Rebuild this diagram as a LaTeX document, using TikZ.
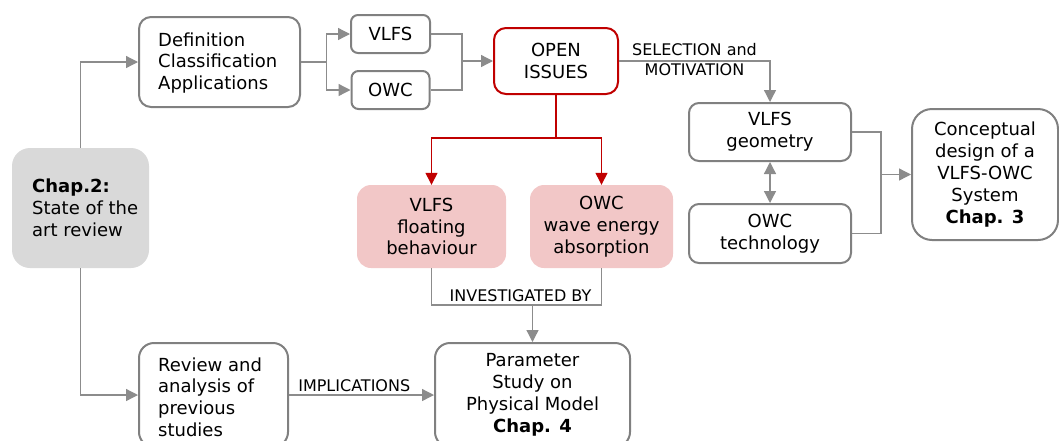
\documentclass[tikz,border=0pt]{standalone}
\usepackage{fontspec}
\setmainfont{DejaVu Sans}
\usetikzlibrary{arrows.meta,calc}

\definecolor{boxgray}{HTML}{808080}
\definecolor{linegray}{HTML}{8C8C8C}
\definecolor{issuered}{HTML}{C00000}
\definecolor{softpink}{HTML}{F2C7C7}
\definecolor{chapgray}{HTML}{D9D9D9}

\newcommand\boxfont{\fontsize{18}{21.8}\selectfont}
\newcommand\lblfont{\fontsize{16}{20}\selectfont}

\begin{document}
\begin{tikzpicture}[x=1pt,y=-1pt,
  box/.style={draw=boxgray, line width=2pt, rounded corners=12pt, fill=white,
              inner sep=0pt, align=center, font=\boxfont},
  smallbox/.style={box, rounded corners=7pt},
  redbox/.style={box, draw=issuered},
  pinkbox/.style={draw=none, fill=softpink, rounded corners=14pt, inner sep=0pt,
                  align=center, font=\boxfont},
  chapbox/.style={draw=none, fill=chapgray, rounded corners=18pt, inner sep=0pt},
  txt/.style={inner sep=0pt, align=left, font=\boxfont},
  lbl/.style={inner sep=0pt, align=center, font=\lblfont},
  conn/.style={draw=linegray, line width=1.3pt},
  arr/.style={conn, -{Triangle[length=12pt,width=12pt]}},
  dblarr/.style={conn, {Triangle[length=12pt,width=12pt]}-{Triangle[length=12pt,width=12pt]}},
  redconn/.style={draw=issuered, line width=1.3pt},
  redarr/.style={redconn, -{Triangle[length=12pt,width=12pt]}}
]
\useasboundingbox (0,0) rectangle (1059,440);
\clip (0,0) rectangle (1059,440);

% ---- boxes ----
\node[chapbox, minimum width=137pt, minimum height=120pt] (chap) at (80.5,208) {};
\node[txt, anchor=west] (chaptxt) at (32,208) {\textbf{Chap.2:}\\State of the\\art review};

\node[box, minimum width=161pt, minimum height=90pt] (defn) at (219.5,62) {};
\node[txt, anchor=west] (defntxt) at (158,63) {Definition\\Classification\\Applications};

\node[smallbox, minimum width=79pt, minimum height=38pt] (vlfs) at (390.5,34) {VLFS};
\node[smallbox, minimum width=78pt, minimum height=38pt] (owc) at (390.5,90) {OWC};

\node[redbox, minimum width=124pt, minimum height=66pt] (open) at (556,61) {OPEN\\ISSUES};

\node[pinkbox, minimum width=149pt, minimum height=83pt] (float) at (431.5,226.5)
  {VLFS\\floating\\behaviour};
\node[pinkbox, minimum width=143pt, minimum height=83pt] (wave) at (601.5,226.5)
  {OWC\\wave energy\\absorption};

\node[box, rounded corners=10pt, minimum width=162pt, minimum height=58pt] (geom) at (770,132)
  {VLFS\\geometry};
\node[box, rounded corners=10pt, minimum width=162pt, minimum height=59pt] (tech) at (770,233.5)
  {OWC\\technology};

\node[box, rounded corners=20pt, minimum width=146pt, minimum height=131pt] (concept) at (985,174.5)
  {Conceptual\\design of a\\VLFS-OWC\\System\\\textbf{Chap. 3}};

\node[box, rounded corners=15pt, minimum width=149pt, minimum height=104pt] (review) at (213.5,395) {};
\node[txt, anchor=west] (reviewtxt) at (158,397) {Review and\\analysis of\\previous\\studies};

\node[box, rounded corners=15pt, minimum width=195pt, minimum height=104pt] (param) at (532.5,395)
  {Parameter\\Study on\\Physical Model\\\textbf{Chap. 4}};

% ---- connectors ----
\draw[arr] (chap.north) |- (defn.west);
\draw[arr] (chap.south) |- (review.west);

\coordinate (split) at ($(defn.east)+(25.5,0)$);
\draw[conn] (defn.east) -- (split);
\draw[arr] (split) |- (vlfs.west);
\draw[arr] (split) |- (owc.west);

\coordinate (join) at (462,61);
\draw[conn] (vlfs.east) -| (join);
\draw[conn] (owc.east) -| (join);
\draw[arr] (join) -- (open.west);

\draw[arr] (open.east) -| (geom.north);
\node[lbl] (sel) at ($(open.east)!0.5!(geom.north |- open.east)+(0,-1)$)
  {SELECTION and\\MOTIVATION};

\coordinate (fork) at (open.south |- 0,138);
\draw[redconn] (open.south) -- (fork);
\draw[redarr] (fork) -| (float.north);
\draw[redarr] (fork) -| (wave.north);

\coordinate (merge) at (param.north |- 0,305);
\draw[conn] (float.south) |- (merge);
\draw[conn] (wave.south) |- (merge);
\draw[arr] (merge) -- (param.north);
\node[lbl, anchor=south] (inv) at ($(float.south |- merge)!0.5!(wave.south |- merge)+(4,-3)$)
  {INVESTIGATED BY};

\draw[arr] (review.east) -- (param.west)
  node[lbl, pos=0.45, anchor=south, yshift=3pt] (impl) {IMPLICATIONS};

\draw[dblarr] (geom.south) -- (tech.north);

\coordinate (join2) at (881,174.5);
\draw[conn] (geom.east) -| (join2);
\draw[conn] (tech.east) -| (join2);
\draw[arr] (join2) -- (concept.west);
\end{tikzpicture}
\end{document}
